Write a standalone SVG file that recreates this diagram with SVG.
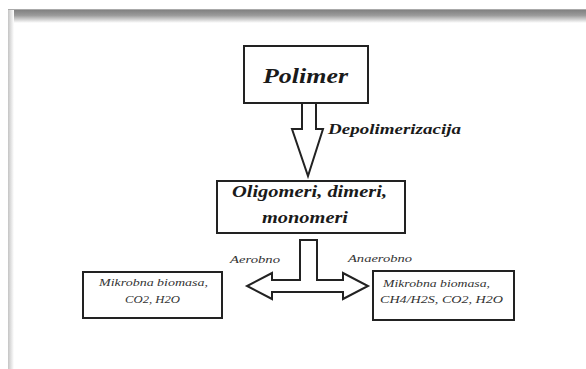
<svg xmlns="http://www.w3.org/2000/svg" width="586" height="369" viewBox="0 0 586 369">
<defs>
<linearGradient id="topbar" x1="0" y1="0" x2="0" y2="1">
<stop offset="0" stop-color="#7c7c7c"/>
<stop offset="0.45" stop-color="#9a9a9a"/>
<stop offset="1" stop-color="#ffffff"/>
</linearGradient>
<linearGradient id="leftbar" x1="0" y1="0" x2="1" y2="0">
<stop offset="0" stop-color="#c4c4c4"/>
<stop offset="1" stop-color="#ffffff"/>
</linearGradient>
</defs>
<style>
.box{fill:#fff;stroke:#222;stroke-width:2}
.arrow{fill:#fff;stroke:#222;stroke-width:2;stroke-linejoin:miter}
.bi{font-family:'Liberation Serif','DejaVu Serif','Times New Roman',serif;font-weight:700;font-style:italic;fill:#1a1a1a}
.it{font-family:'Liberation Serif','DejaVu Serif','Times New Roman',serif;font-weight:400;font-style:italic;fill:#333}
</style>
<rect width="586" height="369" fill="#fff"/>
<rect x="8" y="9" width="578" height="14" fill="url(#topbar)"/>
<rect x="8" y="9" width="6" height="360" fill="url(#leftbar)"/>
<rect x="8" y="9" width="578" height="1" fill="#aaa"/>

<g id="connectors">
<path class="arrow" d="M302,103 L316,103 L316,129 L323,129 L308,176 L292,129 L302,129 Z"/>
<path class="arrow" d="M300,240 L317,240 L317,280 L343,280 L343,273 L368,286 L343,299 L343,292 L272,292 L272,299 L247,286 L272,273 L272,280 L300,280 Z"/>
<text class="bi" x="328" y="134" font-size="14" textLength="133" lengthAdjust="spacingAndGlyphs">Depolimerizacija</text>
<text class="it" x="230" y="263" font-size="10" textLength="50" lengthAdjust="spacingAndGlyphs">Aerobno</text>
<text class="it" x="348" y="262" font-size="10" textLength="64" lengthAdjust="spacingAndGlyphs">Anaerobno</text>
</g>

<g id="polimer">
<rect class="box" x="244" y="46" width="124" height="57"/>
<text class="bi" x="263" y="83" font-size="22" textLength="85" lengthAdjust="spacingAndGlyphs">Polimer</text>
</g>

<g id="oligomeri">
<rect class="box" x="217" y="181" width="188" height="52"/>
<text class="bi" x="232" y="197" font-size="16" textLength="155" lengthAdjust="spacingAndGlyphs">Oligomeri, dimeri,</text>
<text class="bi" x="262" y="223" font-size="16" textLength="86" lengthAdjust="spacingAndGlyphs">monomeri</text>
</g>

<g id="aerobno-produkti">
<rect class="box" x="83" y="272" width="139" height="46"/>
<text class="it" x="99" y="286" font-size="11" textLength="109" lengthAdjust="spacingAndGlyphs">Mikrobna biomasa,</text>
<text class="it" x="125" y="303" font-size="11" textLength="55" lengthAdjust="spacingAndGlyphs">CO2, H2O</text>
</g>

<g id="anaerobno-produkti">
<rect class="box" x="373" y="271" width="141" height="49"/>
<text class="it" x="383" y="287" font-size="11" textLength="107" lengthAdjust="spacingAndGlyphs">Mikrobna biomasa,</text>
<text class="it" x="380" y="303" font-size="11" textLength="123" lengthAdjust="spacingAndGlyphs">CH4/H2S, CO2, H2O</text>
</g>
</svg>
